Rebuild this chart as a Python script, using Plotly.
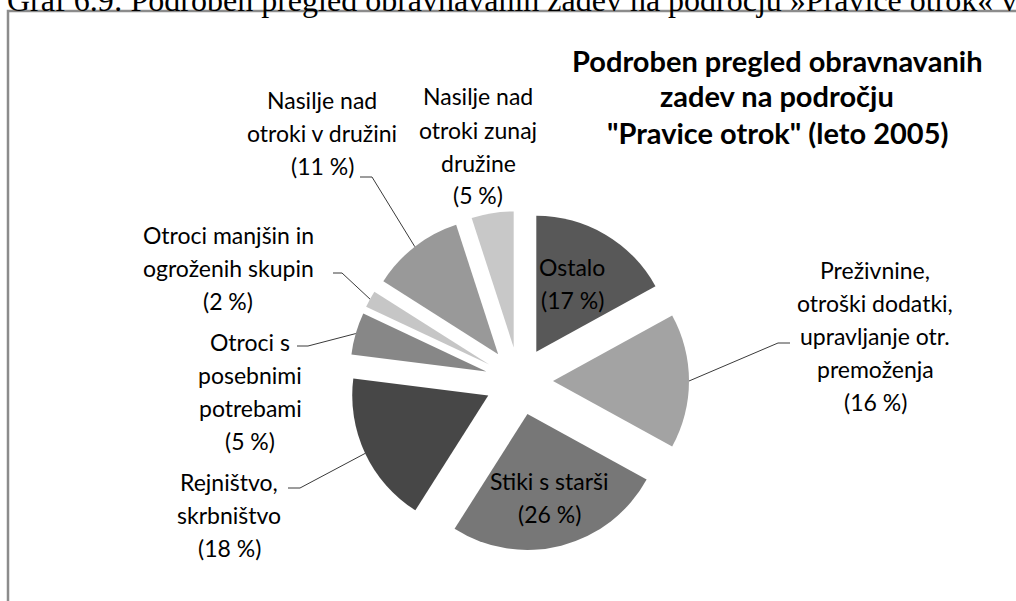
import math
import plotly.graph_objects as go

# ---- data ----
categories = [
    "Ostalo",
    "Preživnine, otroški dodatki, upravljanje otr. premoženja",
    "Stiki s starši",
    "Rejništvo, skrbništvo",
    "Otroci s posebnimi potrebami",
    "Otroci manjšin in ogroženih skupin",
    "Nasilje nad otroki v družini",
    "Nasilje nad otroki zunaj družine",
]
values = [17, 16, 26, 18, 5, 2, 11, 5]
label_lines = [
    ["Ostalo"],
    ["Preživnine,", "otroški dodatki,", "upravljanje otr.", "premoženja"],
    ["Stiki s starši"],
    ["Rejništvo,", "skrbništvo"],
    ["Otroci s", "posebnimi", "potrebami"],
    ["Otroci manjšin in", "ogroženih skupin"],
    ["Nasilje nad", "otroki v družini"],
    ["Nasilje nad", "otroki zunaj", "družine"],
]
colors = ["#585858", "#a3a3a3", "#777777", "#474747",
          "#878787", "#c6c6c6", "#999999", "#c8c8c8"]
title_lines = ["Podroben pregled obravnavanih", "zadev na področju",
               "\"Pravice otrok\" (leto 2005)"]
caption = "Graf 6.9: Podroben pregled obravnavanih zadev na področju »Pravice otrok« v"

# ---- layout constants (pixels) ----
W, H = 1016, 601
PULL = 0.25
CX, CY, HALF = 519, 381, 170          # pie box centre and half size
LABEL_POS = [(572, 283), (875, 336), (549, 497), (229, 515),
             (250, 391), (228, 268), (322, 133), (478, 146)]
LEADERS = {1: (790, 778, 343), 3: (288, 300, 488), 4: (297, 308, 346),
           5: (333, 342, 273), 6: (360, 372, 177)}
LINE_H = 33
LABEL_FONT = dict(family="Lato", size=23, color="#000000")


def px(x):
    return x / W


def py(y):
    return 1 - y / H


fig = go.Figure(go.Pie(
    labels=categories, values=values, sort=False, direction="clockwise",
    rotation=0, pull=[PULL] * len(values), textinfo="none", hoverinfo="label+value",
    marker=dict(colors=colors, line=dict(width=0)), showlegend=False,
    domain=dict(x=[px(CX - HALF), px(CX + HALF)], y=[py(CY + HALF), py(CY - HALF)]),
))

annotations = []
shapes = []

# labels (one annotation per line for Calibri-like line spacing)
for i, (lines, v) in enumerate(zip(label_lines, values)):
    all_lines = lines + [f"({v} %)"]
    lx, ly = LABEL_POS[i]
    n = len(all_lines)
    for k, t in enumerate(all_lines):
        yy = ly + (k - (n - 1) / 2) * LINE_H
        annotations.append(dict(x=px(lx), y=py(yy), xref="paper", yref="paper",
                                text=t, showarrow=False, font=LABEL_FONT,
                                xanchor="center", yanchor="middle"))

# leader lines: to the arc midpoint of each slice
total = sum(values)
cum = 0
for i, v in enumerate(values):
    theta = 2 * math.pi * (cum + v / 2) / total
    cum += v
    if i not in LEADERS:
        continue
    ax = CX + HALF * math.sin(theta)
    ay = CY - HALF * math.cos(theta)
    x0, x1, yl = LEADERS[i]
    path = f"M {px(x0)},{py(yl)} L {px(x1)},{py(yl)} L {px(ax)},{py(ay)}"
    shapes.append(dict(type="path", xref="paper", yref="paper", path=path,
                       line=dict(color="#3a3a3a", width=1)))

# title
for k, t in enumerate(title_lines):
    annotations.append(dict(x=px(777), y=py(60 + k * 36), xref="paper", yref="paper",
                            text=f"<b>{t}</b>", showarrow=False,
                            font=dict(family="Lato", size=29, color="#000000"),
                            xanchor="center", yanchor="middle"))

# caption (partly cut at top)
annotations.append(dict(x=px(5), y=py(20), xref="paper", yref="paper",
                        text=caption, showarrow=False,
                        font=dict(family="Liberation Serif", size=32, color="#000000"),
                        xanchor="left", yanchor="bottom"))

# chart frame
shapes.append(dict(type="rect", xref="paper", yref="paper",
                   x0=px(8), y0=py(11), x1=1.05, y1=-0.05,
                   line=dict(color="#8c8c8c", width=2.5), fillcolor="rgba(0,0,0,0)"))

fig.update_layout(width=W, height=H, margin=dict(l=0, r=0, t=0, b=0),
                  paper_bgcolor="white", plot_bgcolor="white",
                  annotations=annotations, shapes=shapes)

fig.write_html("out.html", config={"displayModeBar": False},
               post_script="document.body.style.margin='0';"
                           "document.body.style.overflow='hidden';")
